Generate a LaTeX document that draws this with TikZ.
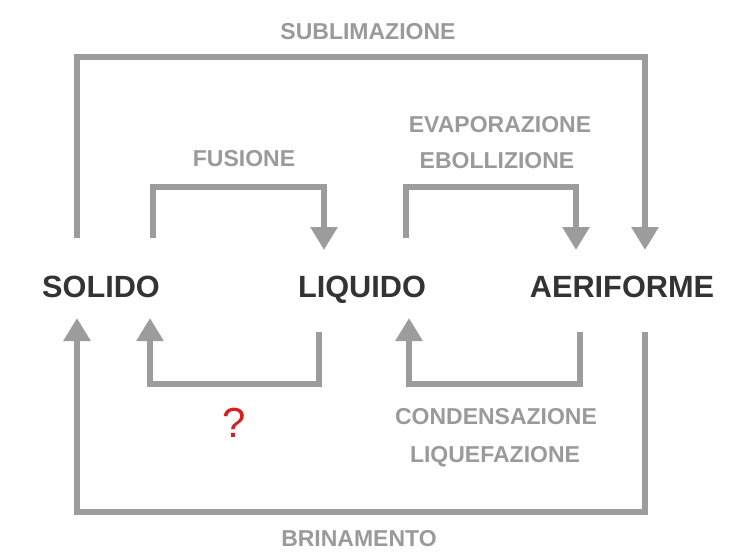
\documentclass[tikz,border=0pt]{standalone}
\usepackage{fontspec}
\setmainfont{Liberation Sans}
\usetikzlibrary{arrows.meta}
\definecolor{linegray}{HTML}{9C9C9C}
\definecolor{labelgray}{HTML}{9A9A9A}
\definecolor{stategray}{HTML}{333333}
\definecolor{qred}{HTML}{D42020}
\tikzset{
    state/.style={anchor=base,inner sep=0pt,text=stategray,font=\fontsize{30.7}{32}\selectfont\bfseries},
    proc/.style={anchor=base,inner sep=0pt,text=labelgray,font=\fontsize{23}{25}\selectfont\bfseries},
    flow/.style={draw=linegray,line width=6pt,-{Triangle[width=26pt,length=23pt]}}
}
\begin{document}
\begin{tikzpicture}[x=1pt,y=-1pt]
                    \useasboundingbox (0,0) rectangle (745,558);
                    %NODE
                    \node[state] (S) at (101,297){SOLIDO};
                    \node[state] (L) at (362,297){LIQUIDO};
                    \node[state] (A) at (622,297){AERIFORME};
                    \node[proc] (sub) at (368,39){SUBLIMAZIONE};
                    \node[proc] (fus) at (244,166){FUSIONE};
                    \node[proc] (eva) at (500,132){EVAPORAZIONE};
                    \node[proc] (ebo) at (497,168){EBOLLIZIONE};
                    \node[proc] (con) at (496,424){CONDENSAZIONE};
                    \node[proc] (liq) at (495,462){LIQUEFAZIONE};
                    \node[proc] (bri) at (359,546){BRINAMENTO};
                    \node[anchor=base,inner sep=0pt,text=qred,font=\fontsize{42}{44}\selectfont] (q) at (234,437){?};

                    %ENDS
                    \coordinate (s1) at (77,238);
                    \coordinate (s2) at (153,238);
                    \coordinate (s3) at (77,318);
                    \coordinate (s4) at (150,318);
                    \coordinate (l1) at (324,250);
                    \coordinate (l2) at (406,238);
                    \coordinate (l3) at (319,332);
                    \coordinate (l4) at (409,318);
                    \coordinate (a1) at (576,250);
                    \coordinate (a2) at (645,250);
                    \coordinate (a3) at (580,332);
                    \coordinate (a4) at (645,332);

                    %EDGE
                    \draw[flow] (s1) -- (77,57) -- (645,57) -- (a2);
                    \draw[flow] (s2) -- (153,187) -- (324,187) -- (l1);
                    \draw[flow] (l2) -- (406,187) -- (576,187) -- (a1);
                    \draw[flow] (a4) -- (645,512) -- (77,512) -- (s3);
                    \draw[flow] (l3) -- (319,384) -- (150,384) -- (s4);
                    \draw[flow] (a3) -- (580,384) -- (409,384) -- (l4);
                \end{tikzpicture}
\end{document}
